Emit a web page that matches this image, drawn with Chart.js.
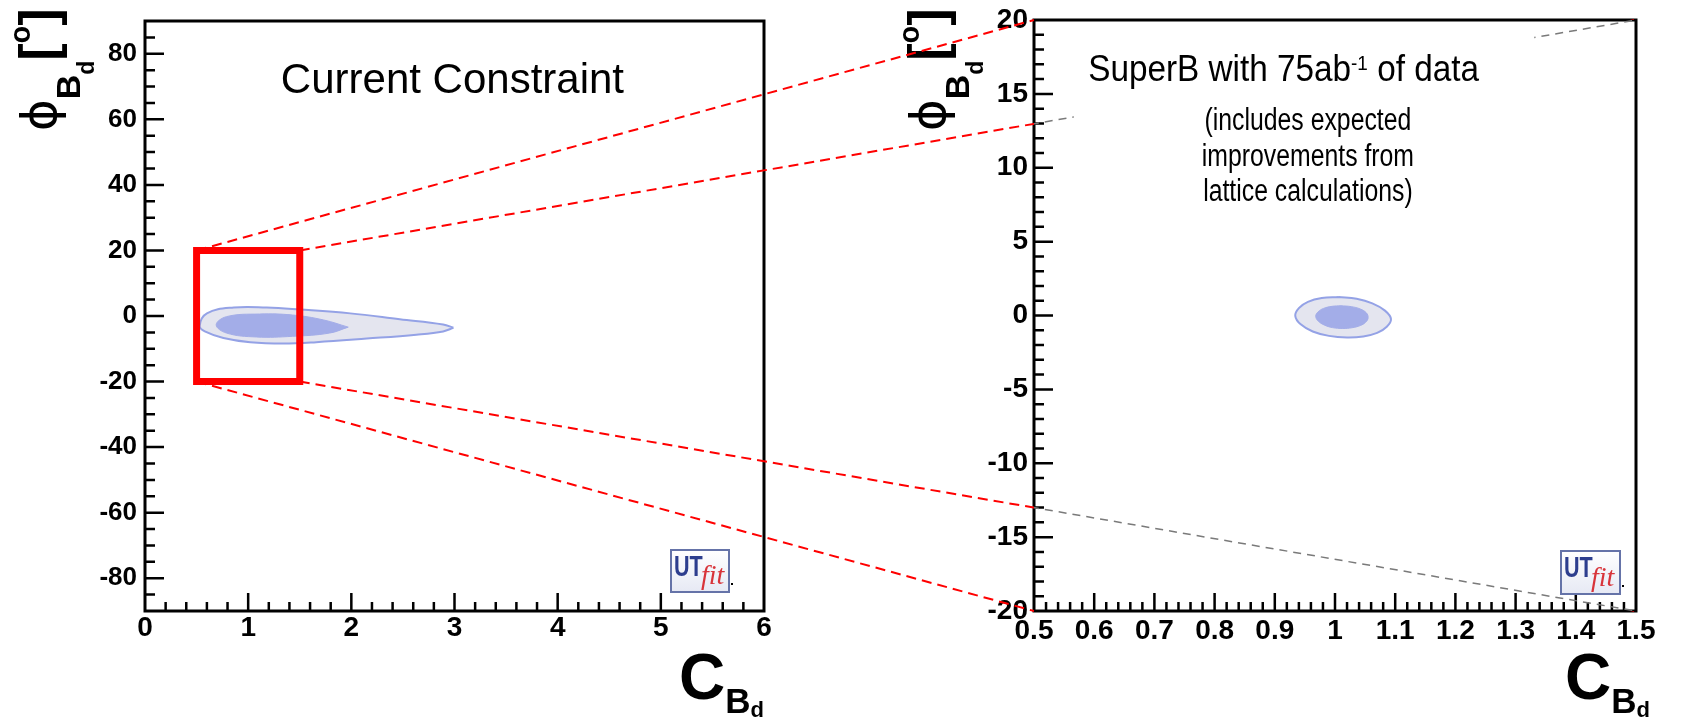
<!DOCTYPE html>
<html>
<head>
<meta charset="utf-8">
<script src="https://cdn.jsdelivr.net/npm/chart.js@4.4.0/dist/chart.umd.min.js"></script>
<style>
  html, body { margin: 0; padding: 0; background: #fff; }
  #wrap { position: relative; width: 1682px; height: 717px; overflow: hidden; }
  #wrap canvas { position: absolute; top: 0; }
</style>
</head>
<body>
<div id="wrap">
  <canvas id="chart-now" width="840" height="717" style="left:0"></canvas>
  <canvas id="chart-superb" width="842" height="717" style="left:840px"></canvas>
  <canvas id="overlay" width="1682" height="717" style="left:0;pointer-events:none"></canvas>
</div>
<script>
// Current constraint, outer (95%) and inner (68%) regions.
const nowOuterC   = [2.99, 2.89, 2.63, 2.15, 1.66, 1.34, 1.02, 0.76, 0.58, 0.53, 0.60, 0.86, 1.18, 1.50, 1.99, 2.47, 2.89, 2.99];
const nowOuterPhi = [-3.6, -4.7, -5.7, -6.9, -8.0, -8.4, -8.0, -6.7, -4.7, -3.0, 0.8, 2.6, 2.6, 2.0, 0.8, -1.0, -2.6, -3.6];
const nowInnerC   = [1.97, 1.79, 1.43, 1.08, 0.79, 0.69, 0.79, 1.11, 1.43, 1.73, 1.97];
const nowInnerPhi = [-3.4, -5.2, -6.2, -6.4, -5.2, -2.7, -0.2, 0.6, 0.3, -1.2, -3.4];

// SuperB 75ab-1, outer and inner regions.
const sbOuterC   = [1.006, 1.036, 1.062, 1.083, 1.093, 1.086, 1.070, 1.047, 1.020, 0.990, 0.963, 0.943, 0.934, 0.940, 0.955, 0.978, 1.006];
const sbOuterPhi = [1.25, 1.13, 0.82, 0.33, -0.24, -0.76, -1.18, -1.42, -1.49, -1.38, -1.08, -0.60, -0.02, 0.50, 0.92, 1.18, 1.25];
const sbInnerC   = [1.010, 1.027, 1.042, 1.052, 1.055, 1.051, 1.042, 1.028, 1.013, 0.996, 0.982, 0.972, 0.968, 0.972, 0.981, 0.995, 1.010];
const sbInnerPhi = [0.66, 0.60, 0.44, 0.18, -0.15, -0.45, -0.68, -0.83, -0.88, -0.82, -0.64, -0.37, -0.05, 0.25, 0.48, 0.62, 0.66];

// Zoomed window (red box on the left = axis range on the right).
const zoomC   = [0.5, 1.5];
const zoomPhi = [-20, 20];

// Axis ranges and tick labels.
const nowRangeC   = [0, 6];
const nowRangePhi = [-90, 90];
const nowTicksC   = [0, 1, 2, 3, 4, 5, 6];
const nowTicksPhi = [-80, -60, -40, -20, 0, 20, 40, 60, 80];
const sbTicksC    = [0.5, 0.6, 0.7, 0.8, 0.9, 1, 1.1, 1.2, 1.3, 1.4, 1.5];
const sbTicksPhi  = [-20, -15, -10, -5, 0, 5, 10, 15, 20];

const FONT = "'Liberation Sans', Arial, Helvetica, sans-serif";

const pts = (xs, ys) => xs.map((x, i) => ({x: x, y: ys[i]}));

function contour(xs, ys, fillColor, lineColor, width) {
  return {
    data: pts(xs, ys),
    showLine: true,
    fill: 'shape',
    backgroundColor: fillColor,
    borderColor: lineColor,
    borderWidth: width,
    pointRadius: 0,
    tension: 0.4,
  };
}

function zoomBox() {
  return {
    data: [
      {x: zoomC[0], y: zoomPhi[0]}, {x: zoomC[0], y: zoomPhi[1]},
      {x: zoomC[1], y: zoomPhi[1]}, {x: zoomC[1], y: zoomPhi[0]},
      {x: zoomC[0], y: zoomPhi[0]}],
    showLine: true,
    fill: false,
    borderColor: '#ff0000',
    borderWidth: 7,
    borderCapStyle: 'square',
    borderJoinStyle: 'miter',
    pointRadius: 0,
    tension: 0,
  };
}

function axis(range, ticks, size, pad, fit) {
  return {
    type: 'linear',
    min: range[0],
    max: range[1],
    afterBuildTicks: s => { s.ticks = ticks.map(v => ({value: v})); },
    afterFit: fit,
    ticks: {
      font: {family: FONT, size: size, weight: 'bold', lineHeight: 1},
      color: '#000',
      padding: pad,
      autoSkip: false,
      maxRotation: 0,
      callback: v => String(v),
    },
    grid: {display: false, drawTicks: false},
    border: {display: false},
  };
}

// Per-chart decoration (ticks, texts, logo).
const DECOR = {
  'chart-now': {
    ticksC: nowTicksC, ticksPhi: nowTicksPhi, minorC: 0.2, minorPhi: 5,
    lenC: [18, 9], lenPhi: [19, 10],
    texts: [
      {parts: [{t: 'Current Constraint', font: '42px ' + FONT}], c: 2.98, phi: 68},
    ],
    logo: [-93, -61, 58, 42],
    xTitleShift: 0,
  },
  'chart-superb': {
    ticksC: sbTicksC, ticksPhi: sbTicksPhi, minorC: 0.02, minorPhi: 1,
    lenC: [18, 9], lenPhi: [19, 10],
    texts: [
      {parts: [{t: 'SuperB with 75ab', font: '37px ' + FONT, sx: 0.9},
               {t: '-1', font: '21px ' + FONT, dy: -11, sx: 0.9},
               {t: ' of data', font: '37px ' + FONT, sx: 0.9}], c: 0.9146, phi: 15.84},
      {parts: [{t: '(includes expected', font: '31px ' + FONT, sx: 0.8}], c: 0.955, phi: 12.55},
      {parts: [{t: 'improvements from', font: '31px ' + FONT, sx: 0.8}], c: 0.955, phi: 10.15},
      {parts: [{t: 'lattice calculations)', font: '31px ' + FONT, sx: 0.8}], c: 0.955, phi: 7.75},
    ],
    logo: [-75, -60, 59, 43],
    xTitleShift: 14,
  },
};

function richText(ctx, parts, x, y, align) {
  let w = 0;
  const ws = parts.map(p => { ctx.font = p.font; const m = ctx.measureText(p.t).width * (p.sx || 1); w += m; return m; });
  let cx = align === 'right' ? x - w : align === 'center' ? x - w / 2 : x;
  parts.forEach((p, i) => {
    ctx.save();
    ctx.font = p.font;
    ctx.translate(cx, y + (p.dy || 0));
    ctx.scale(p.sx || 1, 1);
    ctx.fillText(p.t, 0, 0);
    ctx.restore();
    cx += ws[i];
  });
}

const isMajor = (v, list) => list.some(t => Math.abs(t - v) < 1e-6);

function drawFrame(chart, d) {
  const {ctx, chartArea: a, scales: {x, y}} = chart;
  ctx.save();
  ctx.strokeStyle = '#000';
  ctx.lineWidth = 2.5;
  ctx.beginPath();
  let n = Math.round((x.max - x.min) / d.minorC);
  for (let i = 1; i < n; i++) {
    const v = x.min + i * d.minorC;
    const px = x.getPixelForValue(v);
    ctx.moveTo(px, a.bottom);
    ctx.lineTo(px, a.bottom - (isMajor(v, d.ticksC) ? d.lenC[0] : d.lenC[1]));
  }
  n = Math.round((y.max - y.min) / d.minorPhi);
  for (let i = 1; i < n; i++) {
    const v = y.min + i * d.minorPhi;
    const py = y.getPixelForValue(v);
    ctx.moveTo(a.left, py);
    ctx.lineTo(a.left + (isMajor(v, d.ticksPhi) ? d.lenPhi[0] : d.lenPhi[1]), py);
  }
  ctx.stroke();
  ctx.lineWidth = 3;
  ctx.strokeRect(a.left, a.top, a.right - a.left, a.bottom - a.top);
  ctx.restore();
}

function drawLogo(ctx, x, y, w, h) {
  ctx.save();
  const g = ctx.createLinearGradient(x, y, x, y + h);
  g.addColorStop(0, '#ffffff');
  g.addColorStop(1, '#e6e9f4');
  ctx.fillStyle = g;
  ctx.fillRect(x, y, w, h);
  ctx.strokeStyle = '#6573a8';
  ctx.lineWidth = 2;
  ctx.strokeRect(x, y, w, h);
  ctx.textBaseline = 'alphabetic';
  ctx.save();
  ctx.translate(x + 3, y + 26);
  ctx.scale(0.72, 1);
  ctx.fillStyle = '#2d3e8e';
  ctx.font = 'bold 30px ' + FONT;
  ctx.fillText('UT', 0, 0);
  ctx.restore();
  ctx.fillStyle = '#d8343a';
  ctx.font = "italic 28px 'Liberation Serif', 'Times New Roman', serif";
  ctx.fillText('fit', x + 30, y + h - 8);
  ctx.fillStyle = '#000';
  ctx.fillRect(x + w + 2, y + h - 9, 2, 2);
  ctx.restore();
}

function drawTexts(chart, d) {
  const {ctx, chartArea: a, scales: {x, y}} = chart;
  ctx.save();
  ctx.fillStyle = '#000';
  ctx.textBaseline = 'alphabetic';
  d.texts.forEach(t => richText(ctx, t.parts, x.getPixelForValue(t.c), y.getPixelForValue(t.phi), 'center'));

  // x axis title C_Bd.
  richText(ctx, [
    {t: 'C', font: 'bold 64px ' + FONT},
    {t: 'B', font: 'bold 35px ' + FONT, dy: 14},
    {t: 'd', font: 'bold 22px ' + FONT, dy: 18},
  ], a.right + d.xTitleShift, 699, 'right');

  // y axis title phi_Bd [o].
  ctx.save();
  ctx.translate(a.left - 101, 131);
  ctx.rotate(-Math.PI / 2);
  ctx.textBaseline = 'middle';
  richText(ctx, [
    {t: '\u03d5', font: "48px 'DejaVu Sans', sans-serif"},
    {t: 'B', font: 'bold 34px ' + FONT, dy: 27},
    {t: 'd', font: 'bold 23px ' + FONT, dy: 44},
    {t: '[', font: 'bold 52px ' + FONT, dy: -2},
    {t: 'o', font: 'bold 29px ' + FONT, dy: -22},
    {t: ']', font: 'bold 52px ' + FONT, dy: -2},
  ], 0, 0, 'left');
  ctx.restore();

  drawLogo(ctx, a.right + d.logo[0], a.bottom + d.logo[1], d.logo[2], d.logo[3]);
  ctx.restore();
}

const rootStyle = {
  id: 'rootStyle',
  afterDatasetsDraw(chart) { drawFrame(chart, DECOR[chart.canvas.id]); },
  afterDraw(chart) { drawTexts(chart, DECOR[chart.canvas.id]); },
};

function options(rangeC, rangePhi, ticksC, ticksPhi, sizeC, sizePhi, padC, padPhi, yWidth, right) {
  return {
    responsive: false,
    devicePixelRatio: 1,
    animation: false,
    events: [],
    layout: {padding: {left: 0, right: right, top: 15, bottom: 0}},
    plugins: {legend: {display: false}, tooltip: {enabled: false}},
    scales: {
      x: axis(rangeC, ticksC, sizeC, padC, s => { s.height = 106; }),
      y: axis(rangePhi, ticksPhi, sizePhi, padPhi, s => { s.width = yWidth; }),
    },
  };
}

const chartNow = new Chart(document.getElementById('chart-now'), {
  type: 'scatter',
  data: {
    datasets: [
      zoomBox(),
      contour(nowInnerC, nowInnerPhi, '#a3ade8', '#a3ade8', 1),
      contour(nowOuterC, nowOuterPhi, '#e4e5ef', '#94a2e6', 2),
    ],
  },
  options: options(nowRangeC, nowRangePhi, nowTicksC, nowTicksPhi, 28, 26, 3, 8, 145, 76),
  plugins: [rootStyle],
});

const chartSuperB = new Chart(document.getElementById('chart-superb'), {
  type: 'scatter',
  data: {
    datasets: [
      contour(sbInnerC, sbInnerPhi, '#a3ade8', '#a3ade8', 1),
      contour(sbOuterC, sbOuterPhi, '#e4e5ef', '#94a2e6', 2),
    ],
  },
  options: options(zoomC, zoomPhi, sbTicksC, sbTicksPhi, 28, 28, 6, 6, 194, 46),
  plugins: [rootStyle],
});

// Dashed lines joining the red box corners to the zoomed frame corners.
function drawZoomLines(chartL, chartR) {
  const cv = document.getElementById('overlay');
  const ctx = cv.getContext('2d');
  const offL = chartL.canvas.offsetLeft;
  const offR = chartR.canvas.offsetLeft;
  const corner = (ch, off, c, p) => [off + ch.scales.x.getPixelForValue(c), ch.scales.y.getPixelForValue(p)];
  const lines = [];
  zoomC.forEach(c => zoomPhi.forEach(p => lines.push([corner(chartL, offL, c, p), corner(chartR, offR, c, p)])));
  const a = chartR.chartArea;
  const sx = chartR.scales.x, sy = chartR.scales.y;
  // Region hidden behind the text block.
  const bx0 = offR + sx.getPixelForValue(0.566), bx1 = offR + sx.getPixelForValue(1.331);
  const by0 = sy.getPixelForValue(20), by1 = sy.getPixelForValue(6.5);

  const stroke = () => {
    ctx.beginPath();
    lines.forEach(l => { ctx.moveTo(l[0][0], l[0][1]); ctx.lineTo(l[1][0], l[1][1]); });
    ctx.stroke();
  };

  ctx.save();
  ctx.beginPath();
  ctx.rect(0, 0, cv.width, cv.height);
  ctx.rect(offR + a.left, a.top, a.right - a.left, a.bottom - a.top);
  ctx.clip('evenodd');
  ctx.strokeStyle = '#ff0000';
  ctx.lineWidth = 2;
  ctx.setLineDash([10, 6]);
  stroke();
  ctx.restore();

  ctx.save();
  ctx.beginPath();
  ctx.rect(offR + a.left, a.top, a.right - a.left, a.bottom - a.top);
  ctx.rect(bx0, by0, bx1 - bx0, by1 - by0);
  ctx.clip('evenodd');
  ctx.strokeStyle = '#7a7a7a';
  ctx.lineWidth = 1.5;
  ctx.setLineDash([8, 6]);
  stroke();
  ctx.restore();
}

drawZoomLines(chartNow, chartSuperB);
</script>
</body>
</html>
